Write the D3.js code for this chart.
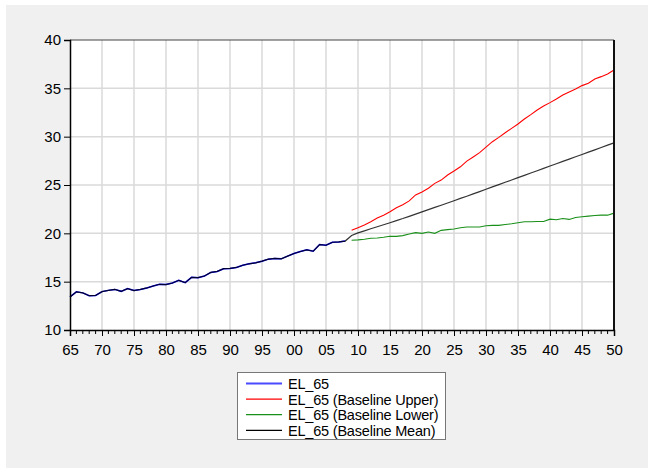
<!DOCTYPE html>
<html>
<head>
<meta charset="utf-8">
<script src="https://cdn.jsdelivr.net/npm/d3@7"></script>
<style>
  body { margin: 0; background: white; }
  text { font-family: "Liberation Sans", Arial, sans-serif; }
</style>
</head>
<body>
<svg id="chart" width="654" height="468"></svg>
<script>
// EL_65 actual, 1965-2008
var histYears = d3.range(1965, 2009)
var histValues = [
  13.42, 13.95, 13.84, 13.55, 13.57, 13.97, 14.10, 14.20, 14.00, 14.28,
  14.08, 14.20, 14.35, 14.55, 14.73, 14.70, 14.86, 15.14, 14.90, 15.45,
  15.41, 15.58, 15.96, 16.06, 16.34, 16.37, 16.47, 16.70, 16.85, 16.95,
  17.12, 17.33, 17.40, 17.36, 17.64, 17.91, 18.12, 18.29, 18.15, 18.84,
  18.77, 19.08, 19.11, 19.20
]

// projections, 2009-2050
var projYears = d3.range(2009, 2051)
var upperValues = [
  20.31, 20.58, 20.86, 21.20, 21.58, 21.88, 22.23, 22.64, 22.95, 23.36,
  23.97, 24.28, 24.66, 25.17, 25.51, 26.03, 26.44, 26.88, 27.47, 27.90,
  28.35, 28.92, 29.48, 29.93, 30.41, 30.86, 31.31, 31.83, 32.28, 32.76,
  33.17, 33.52, 33.90, 34.31, 34.62, 34.93, 35.28, 35.52, 35.97, 36.21,
  36.48, 36.90
]
var lowerValues = [
  19.28, 19.32, 19.38, 19.49, 19.52, 19.59, 19.69, 19.69, 19.76, 19.93,
  20.07, 20.00, 20.14, 20.00, 20.31, 20.38, 20.45, 20.58, 20.65, 20.65,
  20.65, 20.79, 20.82, 20.82, 20.92, 20.99, 21.10, 21.20, 21.20, 21.23,
  21.23, 21.47, 21.40, 21.54, 21.44, 21.64, 21.71, 21.78, 21.85, 21.88,
  21.88, 22.09
]
var meanValues = [
  19.78, 20.05, 20.26, 20.47, 20.68, 20.89, 21.10, 21.32, 21.53, 21.76,
  21.99, 22.22, 22.45, 22.68, 22.91, 23.14, 23.37, 23.61, 23.84, 24.08,
  24.32, 24.56, 24.80, 25.04, 25.28, 25.52, 25.76, 26.00, 26.24, 26.48,
  26.72, 26.96, 27.20, 27.44, 27.68, 27.92, 28.16, 28.40, 28.64, 28.88,
  29.12, 29.36
]

var yTicks = [10, 15, 20, 25, 30, 35, 40]
var xTicks = d3.range(1965, 2051, 5)
var legendLabels = ["EL_65", "EL_65 (Baseline Upper)", "EL_65 (Baseline Lower)", "EL_65 (Baseline Mean)"]
var legendColors = ["#4a4aff", "#ff0000", "#1a901a", "#000000"]

var LEFT = 70, RIGHT = 614, TOP = 40, BOTTOM = 330

var svg = d3.select("#chart")

svg.append("rect")
  .attr("x", 6).attr("y", 5)
  .attr("width", 642).attr("height", 463)
  .attr("fill", "#f0f0f0")

svg.append("rect")
  .attr("x", LEFT).attr("y", TOP)
  .attr("width", RIGHT - LEFT).attr("height", BOTTOM - TOP)
  .attr("fill", "white")

var x = d3.scaleLinear().domain([1965, 2050]).range([LEFT, RIGHT])
var y = d3.scaleLinear().domain([10, 40]).range([BOTTOM, TOP])

// grid
svg.append("g").selectAll("line")
  .data(xTicks.slice(1, -1))
.enter().append("line")
  .attr("x1", function(d) { return x(d) })
  .attr("x2", function(d) { return x(d) })
  .attr("y1", TOP).attr("y2", BOTTOM)
  .attr("stroke", "#dadada")
  .attr("stroke-width", 1.5)

svg.append("g").selectAll("line")
  .data(yTicks.slice(1, -1))
.enter().append("line")
  .attr("y1", function(d) { return y(d) })
  .attr("y2", function(d) { return y(d) })
  .attr("x1", LEFT).attr("x2", RIGHT)
  .attr("stroke", "#dadada")
  .attr("stroke-width", 1.5)

// series
function pairs(years, values) {
  return years.map(function(yr, i) { return [yr, values[i]] })
}

var line = d3.line()
  .x(function(d) { return x(d[0]) })
  .y(function(d) { return y(d[1]) })

var plot = svg.append("g")

plot.append("path")
  .datum(pairs(histYears, histValues))
  .attr("d", line)
  .attr("fill", "none")
  .attr("stroke", "#0000ff")
  .attr("stroke-width", 1.5)

plot.append("path")
  .datum(pairs(projYears, upperValues))
  .attr("d", line)
  .attr("fill", "none")
  .attr("stroke", legendColors[1])
  .attr("stroke-width", 1.1)

plot.append("path")
  .datum(pairs(projYears, lowerValues))
  .attr("d", line)
  .attr("fill", "none")
  .attr("stroke", legendColors[2])
  .attr("stroke-width", 1.1)

// the mean series carries the actuals for the history
plot.append("path")
  .datum(pairs(histYears.concat(projYears), histValues.concat(meanValues)))
  .attr("d", line)
  .attr("fill", "none")
  .attr("stroke", "#000000")
  .attr("stroke-opacity", 0.8)
  .attr("stroke-width", 1.2)

// frame
svg.append("line")
  .attr("x1", LEFT).attr("x2", RIGHT).attr("y1", TOP).attr("y2", TOP)
  .attr("stroke", "#444").attr("stroke-width", 1)
svg.append("line")
  .attr("x1", RIGHT).attr("x2", RIGHT).attr("y1", TOP).attr("y2", BOTTOM)
  .attr("stroke", "#111").attr("stroke-width", 2)

// axes
var xAxis = d3.axisBottom(x)
  .tickValues(xTicks)
  .tickFormat(function(d) { return d3.format("02d")(d % 100) })
  .tickSize(6)
  .tickPadding(8)

var xg = svg.append("g")
  .attr("transform", "translate(0," + BOTTOM + ")")
  .call(xAxis)

// minor yearly ticks
xg.append("g").selectAll("line")
  .data(d3.range(1965, 2051).filter(function(d) { return d % 5 != 0 }))
.enter().append("line")
  .attr("x1", function(d) { return x(d) })
  .attr("x2", function(d) { return x(d) })
  .attr("y1", 0).attr("y2", 4)
  .attr("stroke", "#000")

var yAxis = d3.axisLeft(y)
  .tickValues(yTicks)
  .tickSize(6)
  .tickPadding(3)

var yg = svg.append("g")
  .attr("transform", "translate(" + LEFT + ",0)")
  .call(yAxis)

;[xg, yg].forEach(function(g) {
  g.select(".domain").attr("stroke", "#000").attr("stroke-width", 1.5)
  g.selectAll(".tick line").attr("stroke", "#000")
  g.selectAll(".tick text")
    .attr("fill", "#000")
    .style("font-size", "15px")
    .style("font-family", "'Liberation Sans', Arial, sans-serif")
})

// legend
var legend = svg.append("g")

legend.append("rect")
  .attr("x", 237.5).attr("y", 372.5)
  .attr("width", 208).attr("height", 67)
  .attr("fill", "white")
  .attr("stroke", "#777")

var rows = legend.selectAll(".row")
  .data(legendLabels)
.enter().append("g")
  .attr("class", "row")
  .attr("transform", function(d, i) { return "translate(0," + (383.5 + i * 15.6) + ")" })

rows.append("line")
  .attr("x1", 246).attr("x2", 282)
  .attr("y1", 0).attr("y2", 0)
  .attr("stroke", function(d, i) { return legendColors[i] })
  .attr("stroke-width", function(d, i) { return i == 0 ? 2 : 1.2 })

rows.append("text")
  .attr("x", 288)
  .attr("y", 5.5)
  .style("font-size", "14.5px")
  .style("letter-spacing", "-0.2px")
  .attr("fill", "#000")
  .text(function(d) { return d })
</script>
</body>
</html>
